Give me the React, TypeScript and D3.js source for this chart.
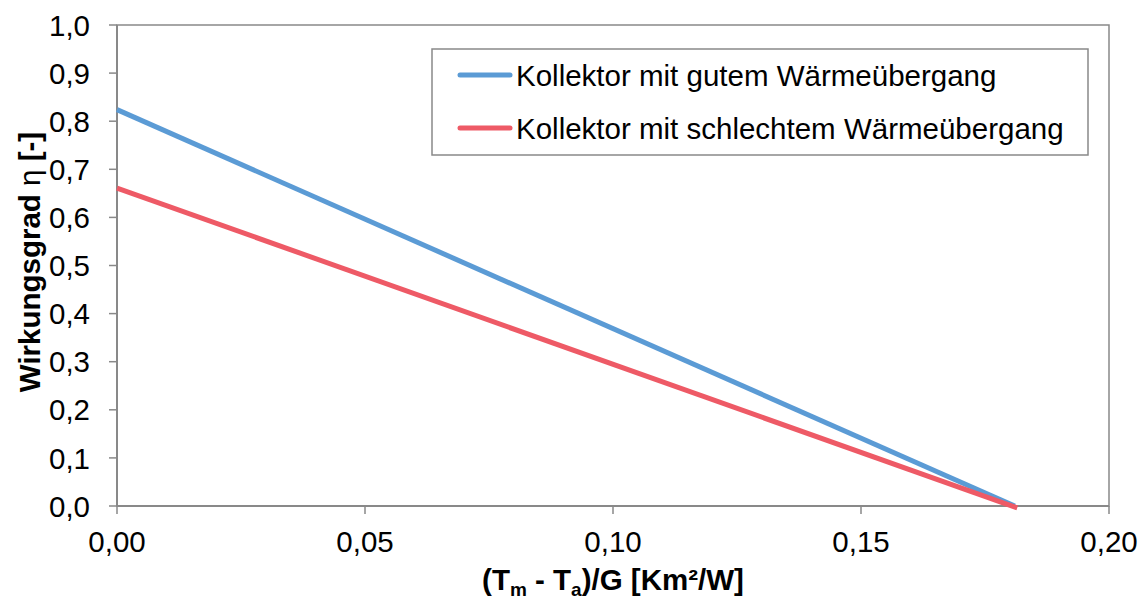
import React from "react";
import * as d3 from "d3";

// values
const xTicks = [0, 0.05, 0.1, 0.15, 0.2];
const yTicks = [0, 0.1, 0.2, 0.3, 0.4, 0.5, 0.6, 0.7, 0.8, 0.9, 1.0];
const seriesNames = ["Kollektor mit gutem Wärmeübergang", "Kollektor mit schlechtem Wärmeübergang"];
const seriesColors = ["#5B9BD5", "#EE5A66"];
const goodX = [0, 0.181];
const goodY = [0.824, 0];
const badX = [0, 0.1815];
const badY = [0.661, -0.004];

const W = 1144;
const H = 600;
const left = 117, right = 1109, top = 25, bottom = 506;
const font = "'Liberation Sans', Arial, sans-serif";
const fs = 29.5;

const App = () => {
  const x = d3.scaleLinear().domain([0, 0.2]).range([left, right]);
  const y = d3.scaleLinear().domain([0, 1]).range([bottom, top]);
  const fmt2 = (v: number) => d3.format(".2f")(v).replace(".", ",");
  const fmt1 = (v: number) => d3.format(".1f")(v).replace(".", ",");

  const line = d3
    .line<[number, number]>()
    .x((d) => x(d[0]))
    .y((d) => y(d[1]));

  const series = [
    goodX.map((v, i) => [v, goodY[i]] as [number, number]),
    badX.map((v, i) => [v, badY[i]] as [number, number]),
  ];

  return (
    <svg width={W} height={H} style={{ position: "absolute", left: 0, top: 0 }} fontFamily={font}>
      <rect x={0} y={0} width={W} height={H} fill="white" />
      {/* plot area border */}
      <rect x={left} y={top} width={right - left} height={bottom - top} fill="none" stroke="#898989" strokeWidth={1.5} />
      {/* y axis */}
      {yTicks.map((t, i) => (
        <g key={i}>
          <line x1={left - 8} x2={left} y1={y(t)} y2={y(t)} stroke="#898989" strokeWidth={1.5} />
          <text x={left - 27} y={y(t)} dy="0.36em" textAnchor="end" fontSize={fs} fill="black">
            {fmt1(t)}
          </text>
        </g>
      ))}
      {/* x axis */}
      {xTicks.map((t, i) => (
        <g key={i}>
          <line x1={x(t)} x2={x(t)} y1={bottom} y2={bottom + 8} stroke="#898989" strokeWidth={1.5} />
          <text x={x(t)} y={552} textAnchor="middle" fontSize={fs} fill="black">
            {fmt2(t)}
          </text>
        </g>
      ))}
      <line x1={left} x2={right} y1={bottom} y2={bottom} stroke="#898989" strokeWidth={2} />
      <line x1={left} x2={left} y1={top} y2={bottom} stroke="#898989" strokeWidth={2} />

      {series.map((s, i) => (
        <path key={i} d={line(s) || ""} fill="none" stroke={seriesColors[i]} strokeWidth={5} />
      ))}

      {/* legend */}
      <rect x={432} y={49} width={656} height={106} fill="white" stroke="#898989" strokeWidth={1.5} />
      {seriesNames.map((n, i) => (
        <g key={i}>
          <line x1={460} x2={510} y1={75 + i * 53} y2={75 + i * 53} stroke={seriesColors[i]} strokeWidth={5} strokeLinecap="round" />
          <text x={516} y={75 + i * 53} dy="0.36em" fontSize={fs} fill="black">
            {n}
          </text>
        </g>
      ))}

      {/* axis titles */}
      <text x={613} y={590} textAnchor="middle" fontSize={fs} fontWeight="bold" fill="black">
        (T<tspan fontSize={19} dy={6}>m</tspan>
        <tspan dy={-6}> - T</tspan>
        <tspan fontSize={19} dy={6}>a</tspan>
        <tspan dy={-6}>)/G [Km²/W]</tspan>
      </text>
      <text transform="translate(40,262) rotate(-90)" textAnchor="middle" fontSize={fs} fontWeight="bold" fill="black">
        Wirkungsgrad <tspan fontWeight="normal">η</tspan> [-]
      </text>
    </svg>
  );
};

export default App;
